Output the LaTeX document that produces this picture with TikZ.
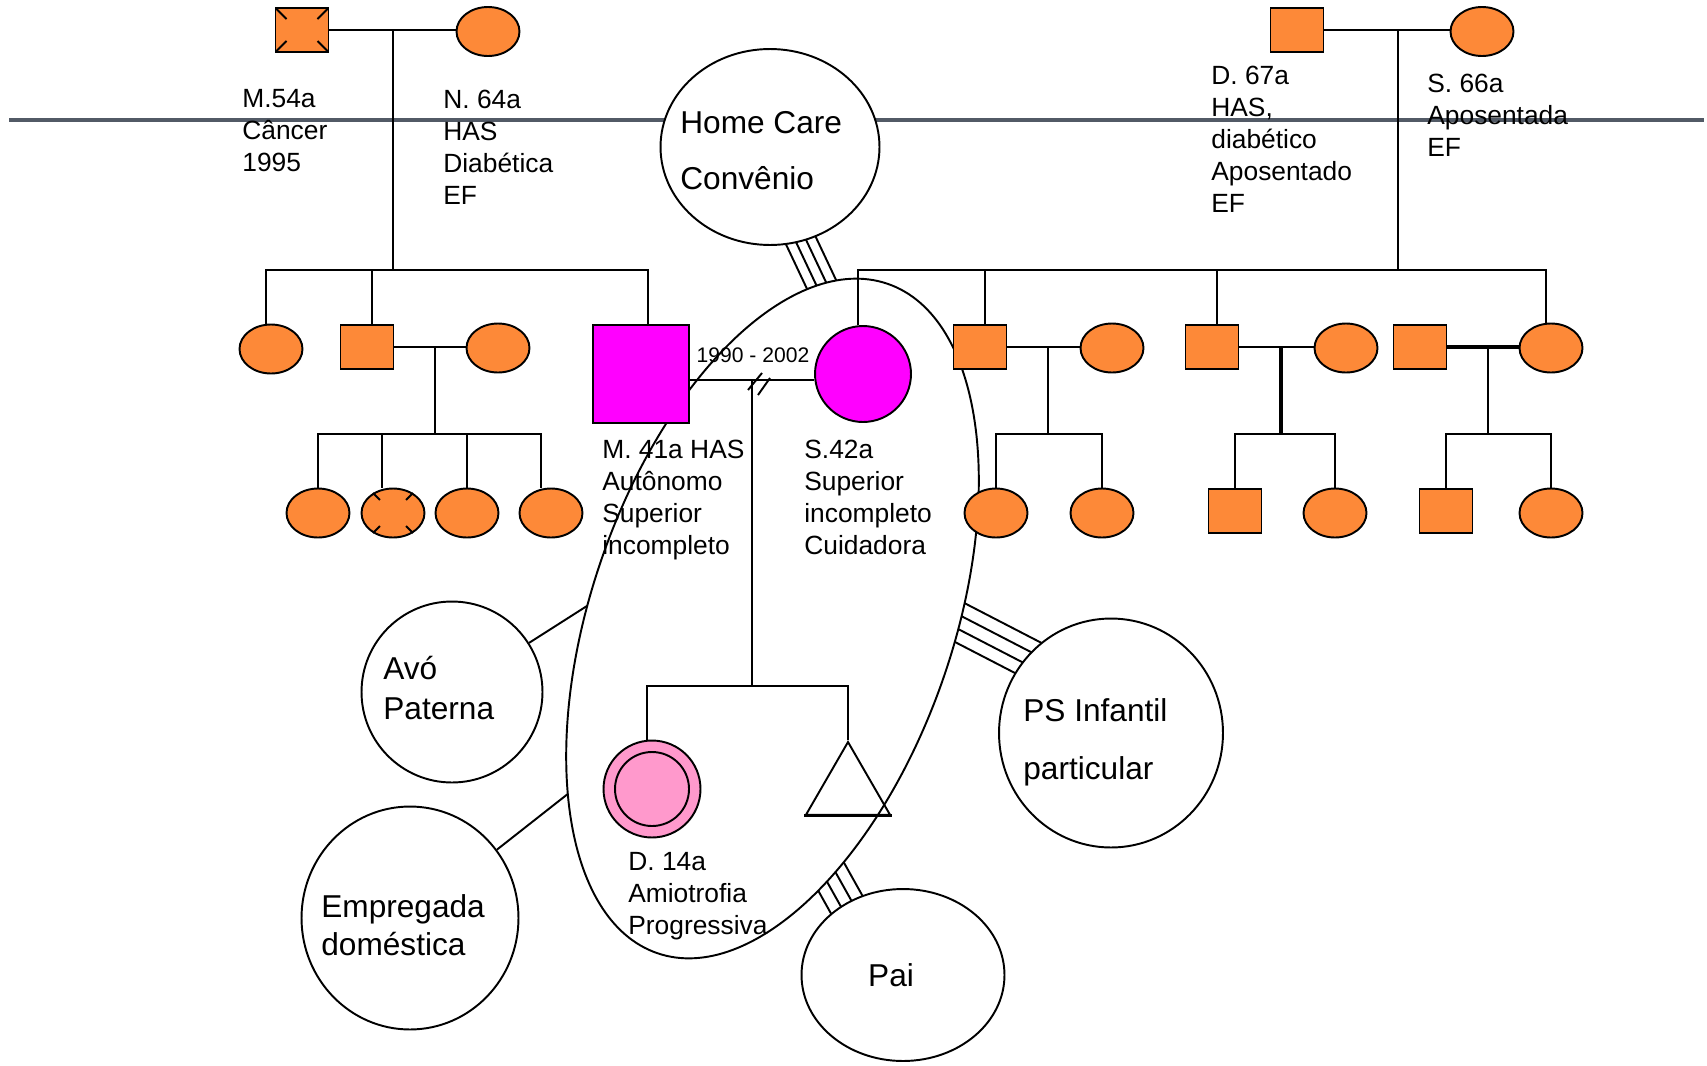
\documentclass[tikz,border=0pt]{standalone}
\usepackage{fontspec}
\setmainfont{Liberation Sans}
\usetikzlibrary{shapes, arrows, calc, positioning}
\pgfdeclarelayer{fundo}
\pgfsetlayers{fundo,main}
\definecolor{laranja}{RGB}{253,137,56}
\definecolor{lilas}{RGB}{255,0,255}
\definecolor{rosa}{RGB}{255,153,204}
\definecolor{cinza}{RGB}{82,90,102}

\begin{document}
\begin{tikzpicture}[x=0.02cm, y=-0.02cm]
	\tikzstyle{homem} = [draw, line width=1.1pt, rectangle, fill=laranja, minimum width=1.06cm, minimum height=0.88cm, inner sep=0pt]
	\tikzstyle{mulher} = [draw, line width=1.1pt, ellipse, fill=laranja, minimum width=1.26cm, minimum height=0.98cm, inner sep=0pt]
	\tikzstyle{falecido} = [path picture={
		\draw[line width=1.1pt] (path picture bounding box.north west) -- ++(0.22cm,-0.22cm)
			(path picture bounding box.north east) -- ++(-0.22cm,-0.22cm)
			(path picture bounding box.south west) -- ++(0.22cm,0.22cm)
			(path picture bounding box.south east) -- ++(-0.22cm,0.22cm);}]
	\tikzstyle{rede} = [draw, line width=1.1pt, ellipse, fill=white, inner sep=0pt]
	\tikzstyle{linha} = [line width=1.5pt]
	\tikzstyle{laco} = [line width=1.1pt]
	\tikzstyle{rotulo} = [anchor=north west, align=left, inner sep=0pt, font=\fontsize{15}{18.2}\selectfont]
	\tikzstyle{texto} = [anchor=north west, align=left, inner sep=0pt, font=\fontsize{18}{22}\selectfont]

	\useasboundingbox (0,0) rectangle (1707,1065);

	\node[rede, minimum width=7.24cm, minimum height=14.16cm, rotate=-19] (casa) at (772.5,618.5) {};
	\node[rede, minimum width=4.38cm, minimum height=3.92cm] (hc) at (770,147) {};
	\node[rede, minimum size=3.62cm] (avo) at (452,692) {};
	\node[rede, minimum width=4.34cm, minimum height=4.46cm] (emp) at (410,918) {};
	\node[rede, minimum width=4.48cm, minimum height=4.58cm] (ps) at (1111,733) {};
	\node[rede, minimum width=4.06cm, minimum height=3.44cm] (pai) at (903,975) {};

	\node[texto] (thc) at (680,110.6) {Home Care\\[10.3pt]Convênio};
	\node[texto] (tavo) at (383,655.6) {Avó\\[0.7pt]Paterna};
	\node[texto] (temp) at (321,894.6) {Empregada\\[-0.5pt]doméstica};
	\node[texto] (tps) at (1023,698.6) {PS Infantil\\[10.9pt]particular};
	\node[font=\fontsize{18}{22}\selectfont, inner sep=0pt] (tpai) at (891,975) {Pai};

	\coordinate (hcA) at (835,313);
	\coordinate (hcB) at (785,207);
	\coordinate (psA) at (925,604.6);
	\coordinate (psB) at (1067,678);
	\coordinate (paiA) at (811.5,841.6);
	\coordinate (paiB) at (876.8,958.4);
	\coordinate (avoT) at (612,590);
	\coordinate (empT) at (590,776.5);

	\begin{pgfonlayer}{fundo}
		\draw[cinza, line width=2.6pt] (9,120) -- (1704,120);
		\foreach \k in {-1.5,-0.5,0.5,1.5} {
			\draw[laco] ([shift={(9.1*\k,-4.2*\k)}]hcA) -- ([shift={(9.1*\k,-4.2*\k)}]hcB);
			\draw[laco] ([shift={(6*\k,-11.5*\k)}]psA) -- ([shift={(6*\k,-11.5*\k)}]psB);
			\draw[laco] ([shift={(10.5*\k,-5.9*\k)}]paiA) -- ([shift={(10.5*\k,-5.9*\k)}]paiB);
		}
		\draw[laco] (avo) -- (avoT);
		\draw[laco] (emp) -- (empT);
	\end{pgfonlayer}

	\node[homem, falecido] (g1) at (302,30) {};
	\node[mulher] (g2) at (488,31.5) {};
	\node[homem] (g3) at (1297,30) {};
	\node[mulher] (g4) at (1482,31.5) {};

	\node[mulher] (a1) at (271,349) {};
	\node[homem] (a2) at (367,347) {};
	\node[mulher] (a3) at (498,348) {};
	\node[mulher] (c1) at (318,513) {};
	\node[mulher] (c2) at (393,513) {};
	\node[mulher] (c3) at (467,513) {};
	\node[mulher] (c4) at (551,513) {};

	\node[draw, line width=1.1pt, fill=lilas, minimum width=1.92cm, minimum height=1.96cm, inner sep=0pt] (m) at (641,374) {};
	\node[draw, line width=1.1pt, fill=lilas, circle, minimum size=1.92cm, inner sep=0pt] (s) at (863,374) {};

	\node[homem] (b1) at (980,347) {};
	\node[mulher] (b2) at (1112,348) {};
	\node[homem] (b3) at (1212,347) {};
	\node[mulher] (b4) at (1346,348) {};
	\node[homem] (b5) at (1420,347) {};
	\node[mulher] (b6) at (1551,348) {};
	\node[mulher] (d1) at (996,513) {};
	\node[mulher] (d2) at (1102,513) {};
	\node[homem] (d3) at (1235,511) {};
	\node[mulher] (d4) at (1335,513) {};
	\node[homem] (d5) at (1446,511) {};
	\node[mulher] (d6) at (1551,513) {};

	\node[draw, line width=1.1pt, fill=rosa, circle, minimum size=1.94cm, inner sep=0pt] (f) at (652,789) {};
	\draw[line width=1.1pt] (f) circle [radius=37];
	\node[draw, line width=1.1pt, regular polygon, regular polygon sides=3, minimum size=1.94cm, inner sep=0pt] (t) at (848,790.5) {};
	\draw[line width=2pt] (t.corner 2) -- (t.corner 3);

	\foreach \a in {45,135,225,315}
		\draw[line width=1.1pt] (c2.\a) -- ($(c2.\a)!0.35!(c2.center)$);

	\coordinate (u1) at (393,30);
	\coordinate (v1) at (393,270);
	\draw[linha] (g1.east) -- (g1.east -| g2.west);
	\draw[linha] (u1) -- (v1);
	\draw[linha] ([xshift=-0.1cm]a1.north) -- ([xshift=-0.1cm]a1.north |- v1) -- ([xshift=0.14cm]m.north |- v1) -- ([xshift=0.14cm]m.north);
	\draw[linha] ([xshift=0.1cm]a2.north) -- ([xshift=0.1cm]a2.north |- v1);

	\coordinate (u2) at (435,347);
	\coordinate (v2) at (435,434);
	\draw[linha] (a2.east) -- (a2.east -| a3.west);
	\draw[linha] (u2) -- (v2);
	\draw[linha] (c1.north) -- (c1.north |- v2) -- ([xshift=-0.2cm]c4.north |- v2) -- ([xshift=-0.2cm]c4.north);
	\draw[linha] ([xshift=-0.22cm]c2.north) -- ([xshift=-0.22cm]c2.north |- v2);
	\draw[linha] (c3.north) -- (c3.north |- v2);

	\coordinate (u3) at (752,380);
	\coordinate (v3) at (752,686);
	\draw[linha] ([yshift=-0.12cm]m.east) -- ([yshift=-0.12cm]s.west);
	\draw[laco] (748,390) -- (762,373) (758,395) -- (770,378);
	\draw[linha] (u3) -- (v3);
	\draw[linha] ([xshift=-0.1cm]f.north) -- ([xshift=-0.1cm]f.north |- v3) -| (t.north);

	\coordinate (u4) at (1398,30);
	\coordinate (v4) at (1398,270);
	\draw[linha] (g3.east) -- (g3.east -| g4.west);
	\draw[linha] (u4) -- (v4);
	\draw[linha] ([xshift=-0.1cm]s.north) -- ([xshift=-0.1cm]s.north |- v4) -- ([xshift=-0.1cm]b6.north |- v4) -- ([xshift=-0.1cm]b6.north);
	\foreach \n in {b1,b3}
		\draw[linha] ([xshift=0.1cm]\n.north) -- ([xshift=0.1cm]\n.north |- v4);

	\coordinate (u5) at (1048,347);
	\coordinate (v5) at (1048,434);
	\draw[linha] (b1.east) -- (b1.east -| b2.west);
	\draw[linha] (u5) -- (v5);
	\draw[linha] (d1.north) -- (d1.north |- v5) -| (d2.north);

	\coordinate (u6) at (1281,347);
	\coordinate (v6) at (1281,434);
	\draw[linha] (b3.east) -- (b3.east -| b4.west);
	\draw[line width=2.2pt] (u6) -- (v6);
	\draw[linha] (d3.north) -- (d3.north |- v6) -| (d4.north);

	\coordinate (u7) at (1488,347);
	\coordinate (v7) at (1488,434);
	\draw[line width=2.2pt] (b5.east) -- (b5.east -| b6.west);
	\draw[linha] (u7) -- (v7);
	\draw[linha] (d5.north) -- (d5.north |- v7) -| (d6.north);

	\node[rotulo] (tg1) at (242,89.5) {M.54a\\Câncer\\1995};
	\node[rotulo] (tg2) at (443,89.5) {N. 64a\\HAS\\Diabética\\EF};
	\node[rotulo] (tg3) at (1211,65.5) {D. 67a\\HAS,\\diabético\\Aposentado\\EF};
	\node[rotulo] (tg4) at (1427,73.5) {S. 66a\\Aposentada\\EF};
	\node[rotulo] (tm) at (602,440) {M. 41a HAS\\Autônomo\\Superior\\incompleto};
	\node[rotulo] (ts) at (804,440) {S.42a\\Superior\\incompleto\\Cuidadora};
	\node[rotulo] (td) at (628,852) {D. 14a\\Amiotrofia\\Progressiva};
	\node[font=\fontsize{12}{14}\selectfont, anchor=base, inner sep=0pt] (anos) at (753,362) {1990 - 2002};
\end{tikzpicture}
\end{document}
